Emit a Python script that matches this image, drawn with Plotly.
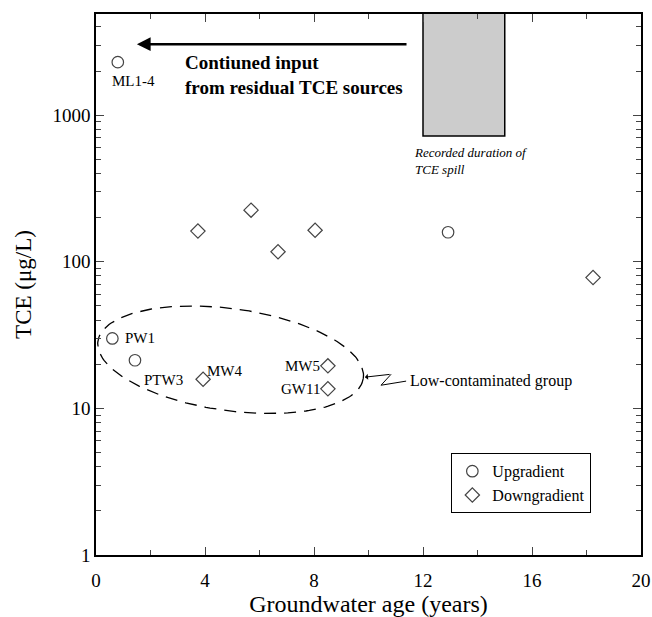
import numpy as np
import plotly.graph_objects as go

# ---- data ----
up_names = ["ML1-4", "PW1", "PTW3", ""]
up_age = [0.8, 0.6, 1.43, 12.92]
up_tce = [2300, 30, 21.3, 159]

down_names = ["MW4", "MW5", "GW11", "", "", "", "", ""]
down_age = [3.93, 8.51, 8.51, 3.74, 5.69, 6.68, 8.04, 18.24]
down_tce = [15.8, 19.5, 13.6, 162, 225, 117, 164, 78]

spill_start, spill_end, spill_min = 12, 15, 720

x_range = [0, 20]
y_log_range = [0, 3.69]
x_ticks = [0, 4, 8, 12, 16, 20]
y_ticks = [1, 10, 100, 1000]

SERIF = "Liberation Serif, Times New Roman, serif"
mcol = "#444444"

fig = go.Figure()

fig.add_trace(go.Scatter(
    x=up_age, y=up_tce, mode="markers", name="Upgradient",
    marker=dict(symbol="circle-open", size=11.5, color=mcol, line=dict(width=1.2)),
))
fig.add_trace(go.Scatter(
    x=down_age, y=down_tce, mode="markers", name="Downgradient",
    marker=dict(symbol="diamond-open", size=11, color=mcol, line=dict(width=1.2)),
))

# dashed ellipse around low-contaminated group (computed in pixel-like space)
W, H = 545.0, 541.0
cx, cy = 4.94, 1.332
a, b, phi = 134.0, 51.0, np.deg2rad(7.9)
t = np.linspace(0, 2 * np.pi, 200)
dx = a * np.cos(t) * np.cos(phi) - b * np.sin(t) * np.sin(phi)
dy = a * np.cos(t) * np.sin(phi) + b * np.sin(t) * np.cos(phi)
ex = cx + dx / (W / (x_range[1] - x_range[0]))
ey = 10 ** (cy - dy / (H / (y_log_range[1] - y_log_range[0])))
fig.add_trace(go.Scatter(x=ex, y=ey, mode="lines", showlegend=False, hoverinfo="skip",
                         line=dict(color="black", width=1.3, dash="12px,8px")))

# zigzag leader
zx = [11.38, 10.46, 10.83]
zy = [10 ** 1.186, 10 ** 1.158, 10 ** 1.233]
fig.add_trace(go.Scatter(x=zx, y=zy, mode="lines", showlegend=False, hoverinfo="skip",
                         line=dict(color="black", width=1)))

fig.add_shape(type="rect", xref="x", yref="y", x0=spill_start, x1=spill_end,
              y0=spill_min, y1=1e5, fillcolor="#cccccc", line=dict(color="black", width=1.5),
              layer="below")

ann = []
# point labels
lab = [
    ("ML1-4", 0.5, np.log10(1700), "left"),
    ("PW1", 1.0, np.log10(30), "left"),
    ("PTW3", 1.7, np.log10(15.6), "left"),
    ("MW4", 4.0, np.log10(18.0), "left"),
    ("MW5", 8.3, np.log10(19.5), "right"),
    ("GW11", 8.3, np.log10(13.6), "right"),
]
for txt, x, y, al in lab:
    ann.append(dict(x=x, y=y, text=txt, showarrow=False, xanchor=al, yanchor="middle",
                    font=dict(family=SERIF, size=15, color="black")))

ann.append(dict(x=3.2, y=3.273, text="<b>Contiuned input<br>from residual TCE sources</b>",
                showarrow=False, xanchor="left", yanchor="middle", align="left",
                font=dict(family=SERIF, size=19, color="black")))
ann.append(dict(x=11.6, y=2.688, text="<i>Recorded duration of<br>TCE spill</i>",
                showarrow=False, xanchor="left", yanchor="middle", align="left",
                font=dict(family=SERIF, size=13, color="black")))
ann.append(dict(x=11.45, y=1.186, text="Low-contaminated group", showarrow=False,
                xanchor="left", yanchor="middle",
                font=dict(family=SERIF, size=16, color="black")))
# big arrow
ann.append(dict(x=1.5, y=3.484, ax=11.45, ay=3.484, axref="x", ayref="y", text="",
                showarrow=True, arrowhead=2, arrowsize=1.1, arrowwidth=2.5, arrowcolor="black"))
# small arrow of zigzag
ann.append(dict(x=9.87, y=1.213, ax=10.83, ay=1.233, axref="x", ayref="y", text="",
                showarrow=True, arrowhead=1, arrowsize=1, arrowwidth=1, arrowcolor="black"))

fig.update_layout(
    width=652, height=617,
    margin=dict(l=96, r=11, t=14, b=62, autoexpand=False),
    paper_bgcolor="white", plot_bgcolor="white",
    font=dict(family=SERIF, color="black"),
    annotations=ann,
    showlegend=True,
    legend=dict(x=0.652, y=0.188, xanchor="left", yanchor="top",
                bordercolor="black", borderwidth=1, bgcolor="white",
                font=dict(family=SERIF, size=16), tracegroupgap=2, itemwidth=30),
)
fig.update_xaxes(range=x_range, tickvals=x_ticks, ticks="inside", ticklen=8, tickwidth=1,
                 showline=True, linecolor="black", linewidth=1.5, mirror="allticks",
                 showgrid=False, zeroline=False, tickfont=dict(family=SERIF, size=19),
                 automargin=False, ticklabelstandoff=7,
                 minor=dict(ticks="inside", ticklen=5, dtick=2, tick0=0, showgrid=False),
                 title=dict(text="Groundwater age (years)", font=dict(family=SERIF, size=24),
                            standoff=6))
fig.update_yaxes(type="log", range=y_log_range, tickvals=y_ticks, ticks="inside", ticklen=8,
                 tickwidth=1, showline=True, linecolor="black", linewidth=1.5, mirror="allticks",
                 showgrid=False, zeroline=False, tickfont=dict(family=SERIF, size=19),
                 automargin=False,
                 minor=dict(ticks="inside", ticklen=5, dtick="D1", showgrid=False),
                 title=dict(text="TCE (μg/L)", font=dict(family=SERIF, size=23), standoff=14))

fig.write_html("out.html")
